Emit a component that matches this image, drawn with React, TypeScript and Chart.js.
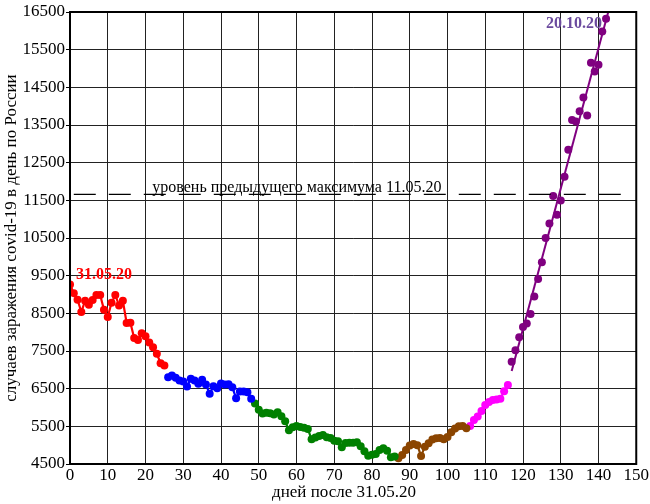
import React, { useEffect, useRef } from "react";
import { Chart, registerables } from "chart.js";

Chart.register(...registerables);

// ---- data (cases per day in Russia, day 0 = 31.05.20) ----
const redDays = [0, 1, 2, 3, 4, 5, 6, 7, 8, 9, 10, 11, 12, 13, 14, 15, 16, 17, 18, 19, 20, 21, 22, 23, 24, 25];
const redValues = [9268, 9035, 8863, 8536, 8831, 8726, 8855, 8984, 8985, 8595, 8404, 8779, 8987, 8706, 8835, 8246, 8248, 7843, 7790, 7972, 7889, 7728, 7600, 7425, 7176, 7113];

const blueDays = [26, 27, 28, 29, 30, 31, 32, 33, 34, 35, 36, 37, 38, 39, 40, 41, 42, 43, 44, 45, 46, 47, 48];
const blueValues = [6800, 6852, 6791, 6719, 6693, 6556, 6760, 6718, 6632, 6736, 6611, 6368, 6562, 6509, 6635, 6611, 6615, 6537, 6248, 6422, 6428, 6406, 6234];

const greenDays = [49, 50, 51, 52, 53, 54, 55, 56, 57, 58, 59, 60, 61, 62, 63, 64, 65, 66, 67, 68, 69, 70, 71, 72, 73, 74, 75, 76, 77, 78, 79, 80, 81, 82, 83, 84, 85, 86];
const greenValues = [6109, 5940, 5842, 5862, 5848, 5811, 5871, 5765, 5635, 5395, 5475, 5509, 5482, 5462, 5427, 5159, 5204, 5241, 5267, 5212, 5189, 5118, 5102, 4945, 5057, 5065, 5061, 5076, 4969, 4839, 4718, 4748, 4767, 4870, 4921, 4852, 4676, 4696];

const brownDays = [87, 88, 89, 90, 91, 92, 93, 94, 95, 96, 97, 98, 99, 100, 101, 102, 103, 104, 105];
const brownValues = [4650, 4741, 4875, 4990, 5030, 5000, 4714, 4960, 5054, 5150, 5185, 5190, 5160, 5220, 5340, 5440, 5500, 5510, 5450];

const magentaDays = [106, 107, 108, 109, 110, 111, 112, 113, 114, 115, 116];
const magentaValues = [5509, 5670, 5762, 5905, 6065, 6148, 6196, 6215, 6234, 6431, 6595];

const purpleDays = [117, 118, 119, 120, 121, 122, 123, 124, 125, 126, 127, 128, 129, 130, 131, 132, 133, 134, 135, 136, 137, 138, 139, 140, 141, 142];
const purpleValues = [7212, 7523, 7867, 8135, 8232, 8481, 8945, 9412, 9859, 10499, 10888, 11615, 11115, 11493, 12126, 12846, 13634, 13592, 13868, 14231, 13754, 15150, 14922, 15099, 15982, 16319];

const trendDays = [117, 142.6];
const trendValues = [6971, 16508];

const prevMaxDays = [1, 149];
const prevMaxValue = 11656;
const prevMaxLabel = "уровень предыдущего максимума 11.05.20";
const prevMaxLabelDay = 21.8;

const startLabel = "31.05.20";
const endLabel = "20.10.20";

const xTitle = "дней после 31.05.20";
const yTitle = "случаев заражения covid-19 в день по России";

const xMin = 0, xMax = 150, xStep = 10;
const yMin = 4500, yMax = 16500, yStep = 1000;

const SERIF = "'Liberation Serif', 'Times New Roman', serif";

const pts = (days: number[], vals: number[]) => days.map((d, i) => ({ x: d, y: vals[i] }));

const seg = (days: number[], vals: number[], color: string, showLine = true) => ({
  data: pts(days, vals),
  borderColor: color,
  backgroundColor: color,
  pointBackgroundColor: color,
  pointBorderColor: color,
  pointRadius: 4,
  pointBorderWidth: 0,
  borderWidth: 2.2,
  showLine,
  tension: 0,
});

const overlayPlugin = {
  id: "overlay",
  afterDraw(chart: any) {
    const { ctx, chartArea, scales } = chart;
    const xs = scales.x;
    const ys = scales.y;
    ctx.save();
    // frame
    ctx.strokeStyle = "#000";
    ctx.lineWidth = 2;
    ctx.strokeRect(chartArea.left, chartArea.top, chartArea.right - chartArea.left, chartArea.bottom - chartArea.top);

    // previous max label
    ctx.fillStyle = "#000";
    ctx.font = `16px ${SERIF}`;
    ctx.textAlign = "left";
    ctx.textBaseline = "alphabetic";
    ctx.fillText(prevMaxLabel, xs.getPixelForValue(prevMaxLabelDay), ys.getPixelForValue(prevMaxValue) - 2);

    // start label
    ctx.fillStyle = "#ff0000";
    ctx.font = `bold 16px ${SERIF}`;
    ctx.textAlign = "left";
    ctx.fillText(startLabel, xs.getPixelForValue(redDays[0]) + 6, ys.getPixelForValue(redValues[0]) - 5);

    // end label
    ctx.fillStyle = "#6b4a9e";
    ctx.textAlign = "right";
    const lastIdx = purpleDays.length - 1;
    ctx.fillText(endLabel, xs.getPixelForValue(purpleDays[lastIdx]) - 4, ys.getPixelForValue(purpleValues[lastIdx]) + 9);

    // axis titles
    ctx.fillStyle = "#000";
    ctx.font = `17px ${SERIF}`;
    ctx.textAlign = "center";
    ctx.textBaseline = "middle";
    ctx.fillText(xTitle, 344, 493);
    ctx.translate(12, (chartArea.top + chartArea.bottom) / 2);
    ctx.rotate(-Math.PI / 2);
    ctx.fillText(yTitle, 0, 0);
    ctx.restore();
  },
};

export default function App() {
  const ref = useRef<HTMLCanvasElement | null>(null);

  useEffect(() => {
    document.body.style.margin = "0";
    const canvas = ref.current;
    if (!canvas) return;
    const chart = new Chart(canvas, {
      type: "scatter",
      data: {
        datasets: [
          {
            data: pts(prevMaxDays, [prevMaxValue, prevMaxValue]),
            borderColor: "#000",
            borderWidth: 1.3,
            borderDash: [22, 13],
            pointRadius: 0,
            showLine: true,
          },
          seg(redDays, redValues, "#ff0000"),
          seg(blueDays, blueValues, "#0000ff"),
          seg(greenDays, greenValues, "#008000"),
          seg(brownDays, brownValues, "#8b4500"),
          seg(magentaDays, magentaValues, "#ff00ff"),
          seg(purpleDays, purpleValues, "#800080", false),
          {
            data: pts(trendDays, trendValues),
            borderColor: "#800080",
            borderWidth: 2,
            pointRadius: 0,
            showLine: true,
          },
        ] as any,
      },
      options: {
        animation: false,
        responsive: false,
        maintainAspectRatio: false,
        layout: { padding: { top: 12, right: 13, left: 0, bottom: 0 } },
        plugins: {
          legend: { display: false },
          tooltip: { enabled: false },
        },
        scales: {
          x: {
            type: "linear",
            min: xMin,
            max: xMax,
            afterFit: (s: any) => { s.height = 40; },
            ticks: {
              stepSize: xStep,
              autoSkip: false,
              maxRotation: 0,
              padding: 1,
              color: "#000",
              font: { family: SERIF, size: 17 },
              callback: (v: any) => String(v),
            },
            grid: { color: "#222", lineWidth: 1, drawTicks: false },
            border: { display: false },
          },
          y: {
            type: "linear",
            min: yMin,
            max: yMax,
            afterFit: (s: any) => { s.width = 70; },
            ticks: {
              stepSize: yStep,
              padding: 1,
              color: "#000",
              font: { family: SERIF, size: 17 },
              callback: (v: any) => String(v),
            },
            grid: { color: "#222", lineWidth: 1, tickLength: 4, tickColor: "#000" },
            border: { display: false },
          },
        },
      },
      plugins: [overlayPlugin],
    } as any);
    return () => chart.destroy();
  }, []);

  return <canvas ref={ref} width={650} height={504} style={{ display: "block" }} />;
}
